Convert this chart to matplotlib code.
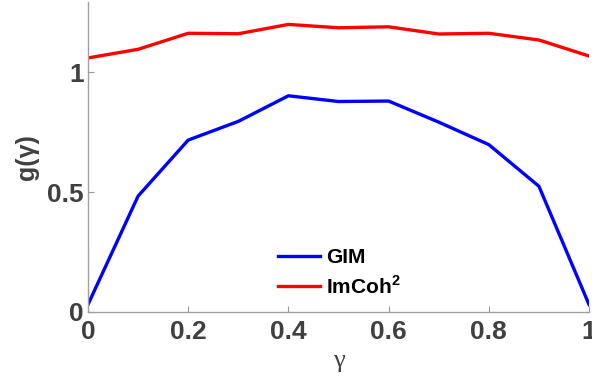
import numpy as np
import matplotlib
matplotlib.use("Agg")
import matplotlib.pyplot as plt

plt.rcParams['font.family'] = ['Liberation Sans', 'DejaVu Sans']
plt.rcParams['mathtext.fontset'] = 'custom'
plt.rcParams['mathtext.rm'] = 'Liberation Sans'
plt.rcParams['mathtext.bf'] = 'Liberation Sans:bold'

gamma = [0.0, 0.1, 0.2, 0.3, 0.4, 0.5, 0.6, 0.7, 0.8, 0.9, 1.0]
gim = [0.03, 0.483, 0.717, 0.795, 0.902, 0.878, 0.880, 0.792, 0.698, 0.524, 0.03]
imcoh2 = [1.060, 1.096, 1.163, 1.161, 1.200, 1.186, 1.190, 1.160, 1.163, 1.135, 1.068]

xticks = [0, 0.2, 0.4, 0.6, 0.8, 1]
xticklabels = ["0", "0.2", "0.4", "0.6", "0.8", "1"]
yticks = [0, 0.5, 1]
yticklabels = ["0", "0.5", "1"]

fig = plt.figure(figsize=(5.92, 3.83), dpi=100)
ax = fig.add_axes([0.1486, 0.186, 0.8464, 0.809])

ax.plot(gamma, gim, color='#0000ff', lw=2.4, label='GIM')
ax.plot(gamma, imcoh2, color='#ff0000', lw=2.4, label=r'ImCoh$^\mathbf{2}$')

ax.set_xlim(0, 1)
ax.set_ylim(0, 1.294)

grey = '#404040'
ax.set_xticks(xticks)
ax.set_xticklabels(xticklabels)
ax.set_yticks(yticks)
ax.set_yticklabels(yticklabels)
ax.tick_params(direction='in', length=4, width=0.8, color='#999999',
               labelsize=19, labelcolor=grey)
ax.tick_params(axis='x', pad=6)
ax.tick_params(axis='y', pad=3)
for lab in ax.get_xticklabels() + ax.get_yticklabels():
    lab.set_fontweight('bold')

for s in ['top', 'right']:
    ax.spines[s].set_visible(False)
for s in ['left', 'bottom']:
    ax.spines[s].set_color('#a0a0a0')
    ax.spines[s].set_linewidth(1.0)

ax.set_ylabel('g(γ)', fontsize=18, fontweight='bold', color=grey, labelpad=6)
ax.set_xlabel('γ', fontsize=19, color=grey, family='Liberation Serif', labelpad=4)

leg = ax.legend(loc='upper left', bbox_to_anchor=(0.456, 0.173, 0.2, 0.2),
                bbox_transform=fig.transFigure, frameon=False,
                prop={'weight': 'bold', 'size': 15}, handlelength=2.0,
                handletextpad=0.3, labelspacing=0.35, borderaxespad=0)

fig.savefig('out.png', dpi=100)
